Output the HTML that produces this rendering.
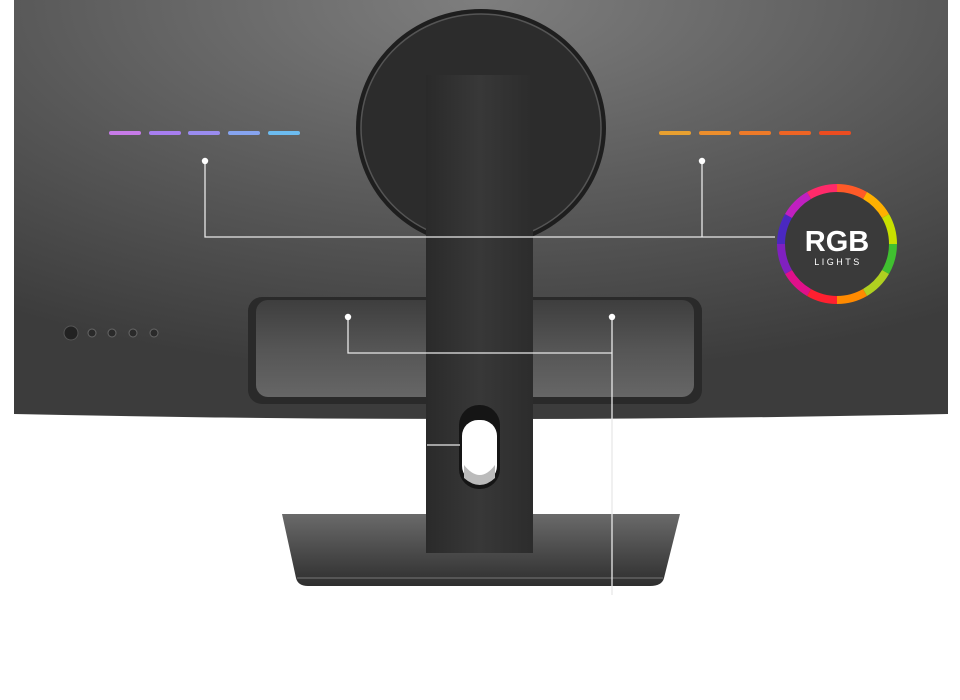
<!DOCTYPE html>
<html><head><style>
html,body{margin:0;padding:0;background:#fff;width:960px;height:700px;overflow:hidden}
svg{display:block}
</style></head><body>
<svg width="960" height="700" viewBox="0 0 960 700" xmlns="http://www.w3.org/2000/svg">
<defs>
<radialGradient id="body" cx="0.5" cy="0" r="0.9">
<stop offset="0" stop-color="#7e7e7e"/><stop offset="0.6" stop-color="#565656"/><stop offset="1" stop-color="#3c3c3c"/>
</radialGradient>
<linearGradient id="neck" x1="0" x2="1">
<stop offset="0" stop-color="#2a2a2a"/><stop offset="0.5" stop-color="#383838"/><stop offset="1" stop-color="#2c2c2c"/>
</linearGradient>
<linearGradient id="comp" x1="0" y1="0" x2="0" y2="1">
<stop offset="0" stop-color="#3e3e3e"/><stop offset="0.5" stop-color="#555"/><stop offset="1" stop-color="#666"/>
</linearGradient>
<linearGradient id="base" x1="0" y1="0" x2="0" y2="1">
<stop offset="0" stop-color="#6a6a6a"/><stop offset="1" stop-color="#2e2e2e"/>
</linearGradient>
</defs>
<path d="M14 0 H948 V414 Q481 424 14 414 Z" fill="url(#body)"/>
<ellipse cx="481" cy="128" rx="125" ry="119" fill="#1e1e1e"/>
<ellipse cx="481" cy="128" rx="120" ry="114" fill="#2c2c2c" stroke="#555" stroke-width="1.5"/>
<rect x="248" y="297" width="454" height="107" rx="14" fill="#2a2a2a"/>
<rect x="256" y="300" width="438" height="97" rx="12" fill="url(#comp)"/>
<g stroke-width="4" stroke-linecap="round">
<line x1="111" y1="133" x2="139" y2="133" stroke="#c77be8"/>
<line x1="151" y1="133" x2="179" y2="133" stroke="#a77ef0"/>
<line x1="190" y1="133" x2="218" y2="133" stroke="#9a8cf0"/>
<line x1="230" y1="133" x2="258" y2="133" stroke="#86a4f0"/>
<line x1="270" y1="133" x2="298" y2="133" stroke="#6cbcf0"/>
<line x1="661" y1="133" x2="689" y2="133" stroke="#e8a030"/>
<line x1="701" y1="133" x2="729" y2="133" stroke="#ec8e2c"/>
<line x1="741" y1="133" x2="769" y2="133" stroke="#ee7a28"/>
<line x1="781" y1="133" x2="809" y2="133" stroke="#ee6424"/>
<line x1="821" y1="133" x2="849" y2="133" stroke="#ec4c20"/>
</g>
<circle cx="71" cy="333" r="7" fill="#222" stroke="#555"/>
<g fill="#2a2a2a" stroke="#666"><circle cx="92" cy="333" r="4"/><circle cx="112" cy="333" r="4"/><circle cx="133" cy="333" r="4"/><circle cx="154" cy="333" r="4"/></g>
<path d="M282 514 H680 L664 578 Q662 586 650 586 H308 Q298 586 296 578 Z" fill="url(#base)"/>
<path d="M297 578 H663" stroke="#777" stroke-width="1"/>
<rect x="426" y="75" width="107" height="478" fill="url(#neck)"/>
<rect x="459" y="405" width="41" height="84" rx="20" fill="#151515"/>
<rect x="462" y="420" width="35" height="62" rx="16" fill="#fff"/>
<path d="M464 465 Q480 485 495 465 V478 Q480 492 464 478 Z" fill="#bbb"/>
<g stroke="#e8e8e8" stroke-width="1.3" fill="none">
<path d="M205 161 V237 H775 M702 161 V237"/>
<path d="M348 317 V353 H612 M612 317 V595"/>
<path d="M427 445 H460"/>
</g>
<g fill="#fff"><circle cx="205" cy="161" r="3.2"/><circle cx="702" cy="161" r="3.2"/><circle cx="348" cy="317" r="3.2"/><circle cx="612" cy="317" r="3.2"/></g>
<circle cx="837" cy="244" r="56" fill="#3a3a3a"/>
<g fill="none" stroke-width="8">
<path d="M837 188 A56 56 0 0 1 865 195.5" stroke="#ff5a28"/>
<path d="M865 195.5 A56 56 0 0 1 885.5 216" stroke="#ffb000"/>
<path d="M885.5 216 A56 56 0 0 1 893 244" stroke="#c8e000"/>
<path d="M893 244 A56 56 0 0 1 885.5 272" stroke="#40c030"/>
<path d="M885.5 272 A56 56 0 0 1 865 292.5" stroke="#b0d020"/>
<path d="M865 292.5 A56 56 0 0 1 837 300" stroke="#ff8a00"/>
<path d="M837 300 A56 56 0 0 1 809 292.5" stroke="#ff2030"/>
<path d="M809 292.5 A56 56 0 0 1 788.5 272" stroke="#e0108a"/>
<path d="M788.5 272 A56 56 0 0 1 781 244" stroke="#8020c0"/>
<path d="M781 244 A56 56 0 0 1 788.5 216" stroke="#4a28c0"/>
<path d="M788.5 216 A56 56 0 0 1 809 195.5" stroke="#c020c0"/>
<path d="M809 195.5 A56 56 0 0 1 837 188" stroke="#ff2a6a"/>
</g>
<text x="837" y="251" text-anchor="middle" font-family="Liberation Sans, sans-serif" font-weight="bold" font-size="29" fill="#fff">RGB</text>
<text x="838" y="265" text-anchor="middle" font-family="Liberation Sans, sans-serif" font-size="9" letter-spacing="2.5" fill="#fff">LIGHTS</text>
</svg>
</body></html>
